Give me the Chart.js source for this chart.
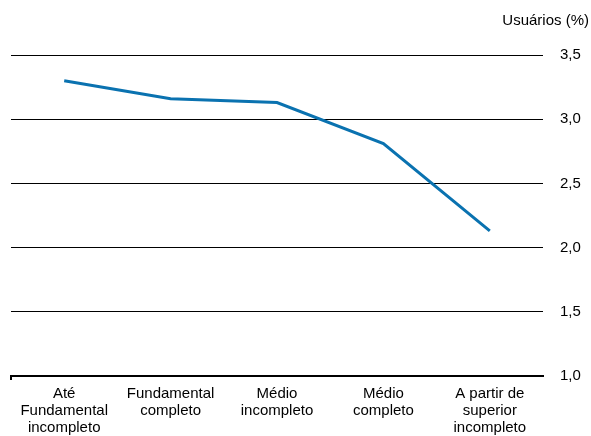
<!DOCTYPE html>
<html>
<head>
<meta charset="utf-8">
<script src="https://cdn.jsdelivr.net/npm/chart.js@4/dist/chart.umd.min.js"></script>
<style>
html,body{margin:0;padding:0;background:#fff;}
#wrap{width:591px;height:436px;}
</style>
</head>
<body>
<div id="wrap"><canvas id="c" width="591" height="436"></canvas></div>
<script>
const categories = [
  ["Até", "Fundamental", "incompleto"],
  ["Fundamental", "completo"],
  ["Médio", "incompleto"],
  ["Médio", "completo"],
  ["A partir de", "superior", "incompleto"]
];
const usuarios = [3.30, 3.16, 3.13, 2.81, 2.13];
const yMin = 1.0, yMax = 3.5, yStep = 0.5;
const yTitle = "Usuários (%)";

Chart.defaults.font.family = "'Liberation Sans', Arial, sans-serif";
Chart.defaults.font.size = 15;
Chart.defaults.color = "#000";

new Chart(document.getElementById('c'), {
  type: 'line',
  data: {
    labels: categories,
    datasets: [{
      data: usuarios,
      borderColor: '#0a72b0',
      borderWidth: 3,
      pointRadius: 0,
      tension: 0,
      fill: false
    }]
  },
  options: {
    responsive: false,
    animation: false,
    layout: { padding: { left: 11, right: 2, top: 0, bottom: 0 } },
    plugins: {
      legend: { display: false },
      tooltip: { enabled: false },
      title: {
        display: true,
        text: yTitle,
        align: 'end',
        font: { size: 15, weight: 'normal', lineHeight: 1.2 },
        color: '#000',
        padding: { top: 12, bottom: 25 }
      }
    },
    scales: {
      x: {
        offset: true,
        afterFit: (s) => { s.height = 60; },
        grid: {
          display: true,
          offset: true,
          drawOnChartArea: false,
          drawTicks: true,
          tickLength: 4,
          lineWidth: 2,
          color: (ctx) => ctx.index === 0 ? '#000' : 'rgba(0,0,0,0)'
        },
        border: { display: true, color: '#000', width: 2 },
        ticks: {
          maxRotation: 0,
          autoSkip: false,
          padding: 5,
          font: { size: 15, lineHeight: 1.13 },
          color: '#000'
        }
      },
      y: {
        position: 'right',
        min: yMin,
        max: yMax,
        afterFit: (s) => { s.width = 46; },
        grid: {
          color: '#000',
          lineWidth: 1,
          drawTicks: false
        },
        border: { display: false },
        ticks: {
          stepSize: yStep,
          padding: 17,
          font: { size: 15 },
          color: '#000',
          callback: (v) => Number(v).toFixed(1).replace('.', ',')
        }
      }
    }
  }
});
</script>
</body>
</html>
